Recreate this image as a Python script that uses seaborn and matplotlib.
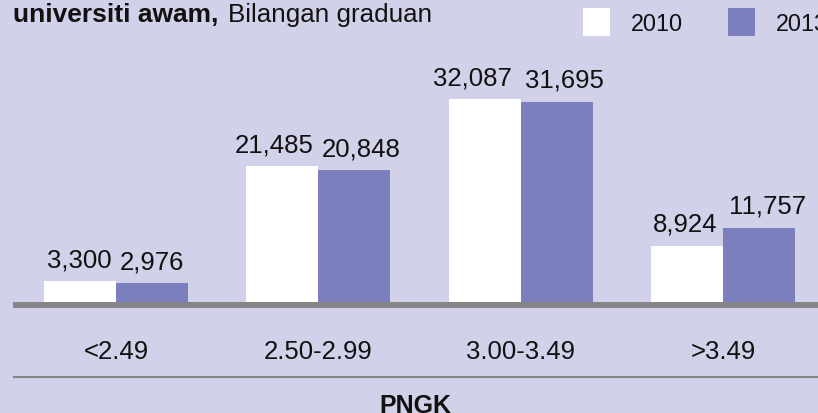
import matplotlib
matplotlib.use("Agg")
import matplotlib.pyplot as plt
from matplotlib.lines import Line2D
import seaborn as sns
import pandas as pd

# data
categories = ["<2.49", "2.50-2.99", "3.00-3.49", ">3.49"]
years = ["2010", "2013"]
grads_2010 = [3300, 21485, 32087, 8924]
grads_2013 = [2976, 20848, 31695, 11757]

# sideways nudge of the value labels (px) so neighbours don't collide
nudge_2010 = [-1, -8, -12, -2]
nudge_2013 = [0, 6.5, 8, 8.5]

bg = "#D1D1E9"
purple = "#7B7FBE"
grey = "#858585"

sns.set_style("white")
plt.rcParams["font.family"] = ["Liberation Sans", "DejaVu Sans"]

df = pd.DataFrame({
    "PNGK": categories * 2,
    "Tahun": [years[0]] * 4 + [years[1]] * 4,
    "Graduan": grads_2010 + grads_2013,
})

W, H = 818, 414
fig = plt.figure(figsize=(W / 100, H / 100), dpi=100, facecolor=bg)
ax = fig.add_axes([12 / W, (H - 303) / H, 806 / W, 303 / H])
ax.set_facecolor(bg)

sns.barplot(data=df, x="PNGK", y="Graduan", hue="Tahun", order=categories,
            hue_order=years, palette=["white", purple], saturation=1,
            width=0.712, gap=0, errorbar=None, linewidth=0, ax=ax)

for cont, nudge in zip(ax.containers, [nudge_2010, nudge_2013]):
    texts = ax.bar_label(cont, labels=[f"{int(b.get_height()):,}" for b in cont],
                         padding=7, fontsize=18.5, color="#111111")
    for t, dx in zip(texts, nudge):
        t.xyann = (dx * 0.72, 7)

ax.set_ylim(0, 47900)
ax.set_xlim(-0.514, 3.470)
ax.set_xlabel("")
ax.set_ylabel("")
ax.set_yticks([])
ax.tick_params(axis="x", length=0, pad=27, labelsize=18.5, colors="#111111")
for s in ax.spines.values():
    s.set_visible(False)

# baseline and lower rule
fig.add_artist(Line2D([13 / W, 1], [(H - 306.3) / H] * 2, lw=4.3, color=grey,
                      solid_capstyle="butt"))
fig.add_artist(Line2D([13 / W, 1], [(H - 378.3) / H] * 2, lw=1.5, color=grey,
                      solid_capstyle="butt"))

fig.text(415 / W, 1 - 413 / H, "PNGK", ha="center", va="baseline",
         fontsize=18, fontweight="bold", color="#111111")

# title
fig.text(13 / W, 1 - 22 / H, "universiti awam,", ha="left", va="baseline",
         fontsize=19, fontweight="bold", color="#111111")
fig.text(228 / W, 1 - 22 / H, "Bilangan graduan", ha="left", va="baseline",
         fontsize=18.7, color="#111111")

leg = ax.legend(loc="upper left", bbox_to_anchor=(583 / W, 1 - 9 / H),
                bbox_transform=fig.transFigure, ncol=2, frameon=False,
                fontsize=16.8, handlelength=1.16, handleheight=1.45,
                handletextpad=0.9, columnspacing=1.9, borderpad=0,
                borderaxespad=0, title=None)
for t in leg.get_texts():
    t.set_color("#111111")

fig.savefig("out.png", dpi=100, facecolor=bg)
